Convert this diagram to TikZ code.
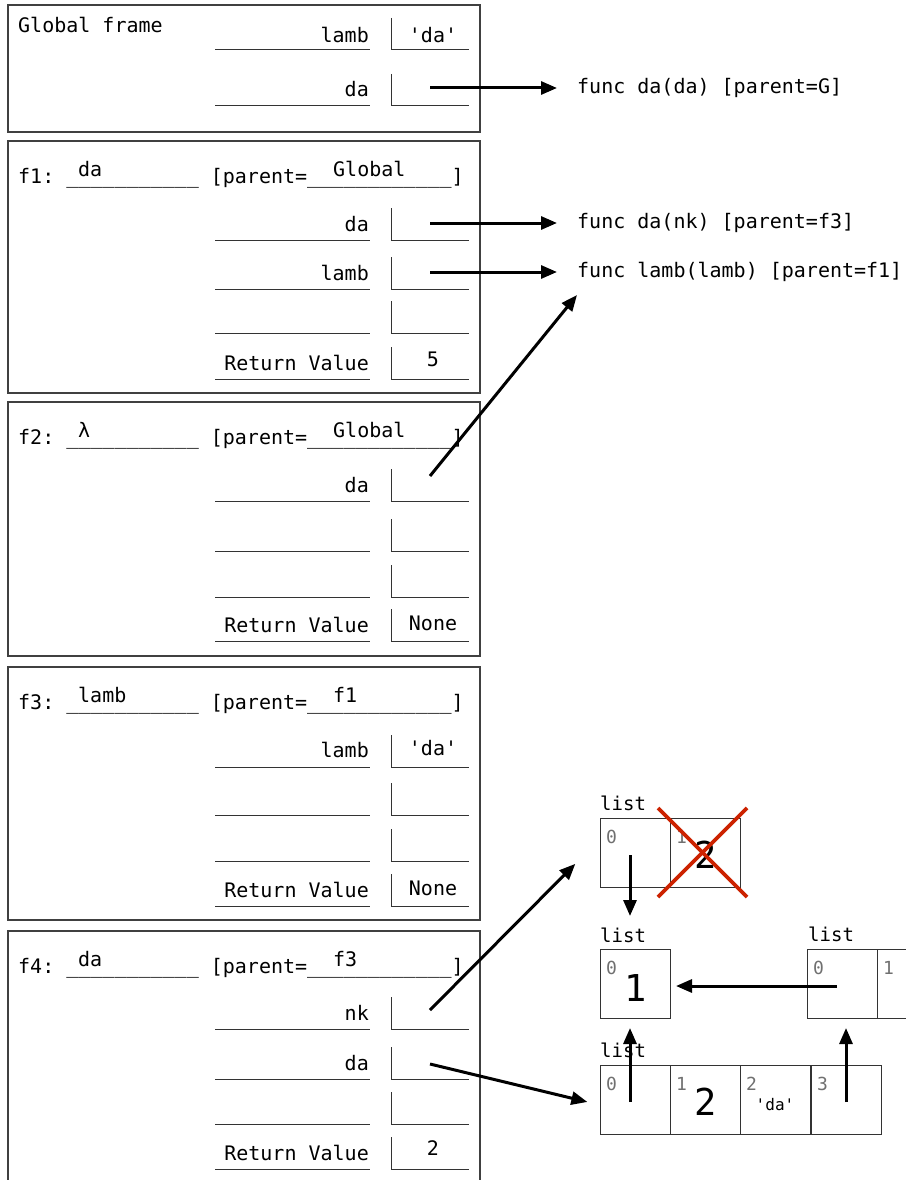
\documentclass[tikz,border=0pt]{standalone}
\usepackage{fontspec}
\setmonofont{DejaVu Sans Mono}
\usetikzlibrary{arrows.meta}

\definecolor{crossred}{HTML}{CC2200}
\definecolor{idxgray}{HTML}{707070}

\tikzset{
  frame/.style={draw=black!75, line width=1.1pt},
  slot/.style={draw=black!80, line width=1pt},
  ptr/.style={line width=3pt, -{Triangle[length=16pt,width=13pt]}},
  txt/.style={inner sep=0pt, font=\ttfamily\fontsize{20}{24}\selectfont},
  lbl/.style={inner sep=0pt, font=\ttfamily\fontsize{19}{22}\selectfont},
  cell/.style={draw=black!80, line width=1pt, minimum width=70pt, minimum height=69pt, inner sep=0pt},
  idx/.style={inner sep=0pt, text=idxgray, font=\ttfamily\fontsize{18}{20}\selectfont},
  big/.style={inner sep=0pt, font=\ttfamily\fontsize{37}{40}\selectfont},
  small/.style={inner sep=0pt, font=\ttfamily\fontsize{16}{18}\selectfont},
  cross/.style={draw=crossred, line width=3.8pt}
}

\begin{document}
\begin{tikzpicture}[x=1pt, y=-1pt]
\useasboundingbox (0,0) rectangle (905,1180);

% Frames
\draw[frame] (8,5) rectangle (480,132);
\draw[frame] (8,141) rectangle (480,393);
\draw[frame] (8,402) rectangle (480,656);
\draw[frame] (8,667) rectangle (480,920);
\draw[frame] (8,1200) -- (8,931) -- (480,931) -- (480,1200);

% name and value slots
\foreach \u in {50,106,240,289,333,379,501,551,597,641,767,815,861,906,1029,1079,1124,1169} {
  \draw[slot] (215,\u) -- (370,\u);
  \draw[slot] (391,\u-32) -- (391,\u) -- (469,\u);
}

% Global frame
\node[txt, anchor=base west] (g-title) at (18,33) {Global frame};
\node[txt, anchor=base east] (g-lamb) at (369,43) {lamb};
\node[txt, anchor=base] (g-lamb-val) at (433,43) {'da'};
\node[txt, anchor=base east] (g-da) at (369,97) {da};
\coordinate (g-da-ptr) at (430,88);

% f1
\node[txt, anchor=base west] (f1-title) at (18,183) {f1: \_\_\_\_\_\_\_\_\_\_\_ [parent=\_\_\_\_\_\_\_\_\_\_\_\_]};
\node[txt, anchor=base west] (f1-fn) at (78,176) {da};
\node[txt, anchor=base west] (f1-par) at (333,176) {Global};
\node[txt, anchor=base east] (f1-da) at (369,231) {da};
\coordinate (f1-da-ptr) at (430,223);
\node[txt, anchor=base east] (f1-lamb) at (369,280) {lamb};
\coordinate (f1-lamb-ptr) at (430,272);
\node[txt, anchor=base east] (f1-ret) at (369,370) {Return Value};
\node[txt, anchor=base] (f1-ret-val) at (433,366) {5};

% f2
\node[txt, anchor=base west] (f2-title) at (18,444) {f2: \_\_\_\_\_\_\_\_\_\_\_ [parent=\_\_\_\_\_\_\_\_\_\_\_\_]};
\node[txt, anchor=base west] (f2-fn) at (78,437) {λ};
\node[txt, anchor=base west] (f2-par) at (333,437) {Global};
\node[txt, anchor=base east] (f2-da) at (369,492) {da};
\coordinate (f2-da-ptr) at (430,476);
\node[txt, anchor=base east] (f2-ret) at (369,632) {Return Value};
\node[txt, anchor=base] (f2-ret-val) at (433,630) {None};

% f3
\node[txt, anchor=base west] (f3-title) at (18,709) {f3: \_\_\_\_\_\_\_\_\_\_\_ [parent=\_\_\_\_\_\_\_\_\_\_\_\_]};
\node[txt, anchor=base west] (f3-fn) at (78,702) {lamb};
\node[txt, anchor=base west] (f3-par) at (333,702) {f1};
\node[txt, anchor=base east] (f3-lamb) at (369,757) {lamb};
\node[txt, anchor=base] (f3-lamb-val) at (433,755) {'da'};
\node[txt, anchor=base east] (f3-ret) at (369,897) {Return Value};
\node[txt, anchor=base] (f3-ret-val) at (433,895) {None};

% f4
\node[txt, anchor=base west] (f4-title) at (18,973) {f4: \_\_\_\_\_\_\_\_\_\_\_ [parent=\_\_\_\_\_\_\_\_\_\_\_\_]};
\node[txt, anchor=base west] (f4-fn) at (78,966) {da};
\node[txt, anchor=base west] (f4-par) at (333,966) {f3};
\node[txt, anchor=base east] (f4-nk) at (369,1020) {nk};
\coordinate (f4-nk-ptr) at (430,1010);
\node[txt, anchor=base east] (f4-da) at (369,1070) {da};
\coordinate (f4-da-ptr) at (430,1064);
\node[txt, anchor=base east] (f4-ret) at (369,1160) {Return Value};
\node[txt, anchor=base] (f4-ret-val) at (433,1155) {2};

% function objects
\node[txt, anchor=west] (fn-da-g) at (577,88) {func da(da) [parent=G]};
\node[txt, anchor=west] (fn-da-f3) at (577,223) {func da(nk) [parent=f3]};
\node[txt, anchor=west] (fn-lamb) at (577,272) {func lamb(lamb) [parent=f1]};

% list a (crossed out)
\node[lbl, anchor=base west] (a-lbl) at (600,810) {list};
\node[cell, anchor=north west] (a0) at (600,818) {};
\node[cell, anchor=north west] (a1) at (670,818) {};
\node[idx, anchor=base west] (a0-i) at (606,843) {0};
\node[idx, anchor=base west] (a1-i) at (676,843) {1};
\node[big, anchor=base] (a1-v) at (706,868) {2};
\coordinate (a0-ptr) at (630,855);
\draw[cross] (658,808) -- (747,897);
\draw[cross] (658,897) -- (747,808);

% list b
\node[lbl, anchor=base west] (b-lbl) at (600,942) {list};
\node[cell, anchor=north west] (b0) at (600,949) {};
\node[idx, anchor=base west] (b0-i) at (606,974) {0};
\node[big, anchor=base] (b0-v) at (636,1001) {1};

% list c
\node[lbl, anchor=base west] (c-lbl) at (808,941) {list};
\node[cell, anchor=north west] (c0) at (807,949) {};
\node[cell, anchor=north west] (c1) at (877,949) {};
\node[idx, anchor=base west] (c0-i) at (813,974) {0};
\node[idx, anchor=base west] (c1-i) at (883,974) {1};
\coordinate (c0-ptr) at (837,986);

% list d
\node[lbl, anchor=base west] (d-lbl) at (600,1057) {list};
\node[cell, anchor=north west] (d0) at (600,1065) {};
\node[cell, anchor=north west] (d1) at (670,1065) {};
\node[cell, anchor=north west] (d2) at (740,1065) {};
\node[cell, anchor=north west] (d3) at (811,1065) {};
\node[idx, anchor=base west] (d0-i) at (606,1090) {0};
\node[idx, anchor=base west] (d1-i) at (676,1090) {1};
\node[idx, anchor=base west] (d2-i) at (746,1090) {2};
\node[idx, anchor=base west] (d3-i) at (817,1090) {3};
\node[big, anchor=base] (d1-v) at (706,1115) {2};
\node[small, anchor=base] (d2-v) at (775,1110) {'da'};
\coordinate (d0-ptr) at (630,1102);
\coordinate (d3-ptr) at (846,1102);

% pointers
\draw[ptr, shorten >=20pt] (g-da-ptr) -- (fn-da-g.west);
\draw[ptr, shorten >=20pt] (f1-da-ptr) -- (fn-da-f3.west);
\draw[ptr, shorten >=20pt] (f1-lamb-ptr) -- (fn-lamb.west);
\draw[ptr] (f2-da-ptr) -- ([yshift=-23pt]fn-lamb.west);
\draw[ptr, shorten >=35pt] (f4-nk-ptr) -- ([yshift=14pt]a0.west);
\draw[ptr, shorten >=13pt] (f4-da-ptr) -- ([yshift=-5pt]d0.west);
\draw[ptr, shorten >=33pt] (a0-ptr) -- (a0-ptr |- b0.north);
\draw[ptr, shorten >=5pt] (c0-ptr) -- (c0-ptr -| b0.east);
\draw[ptr, shorten >=9pt] (d0-ptr) -- (d0-ptr |- b0.south);
\draw[ptr, shorten >=9pt] (d3-ptr) -- (d3-ptr |- c0.south);
\end{tikzpicture}
\end{document}
